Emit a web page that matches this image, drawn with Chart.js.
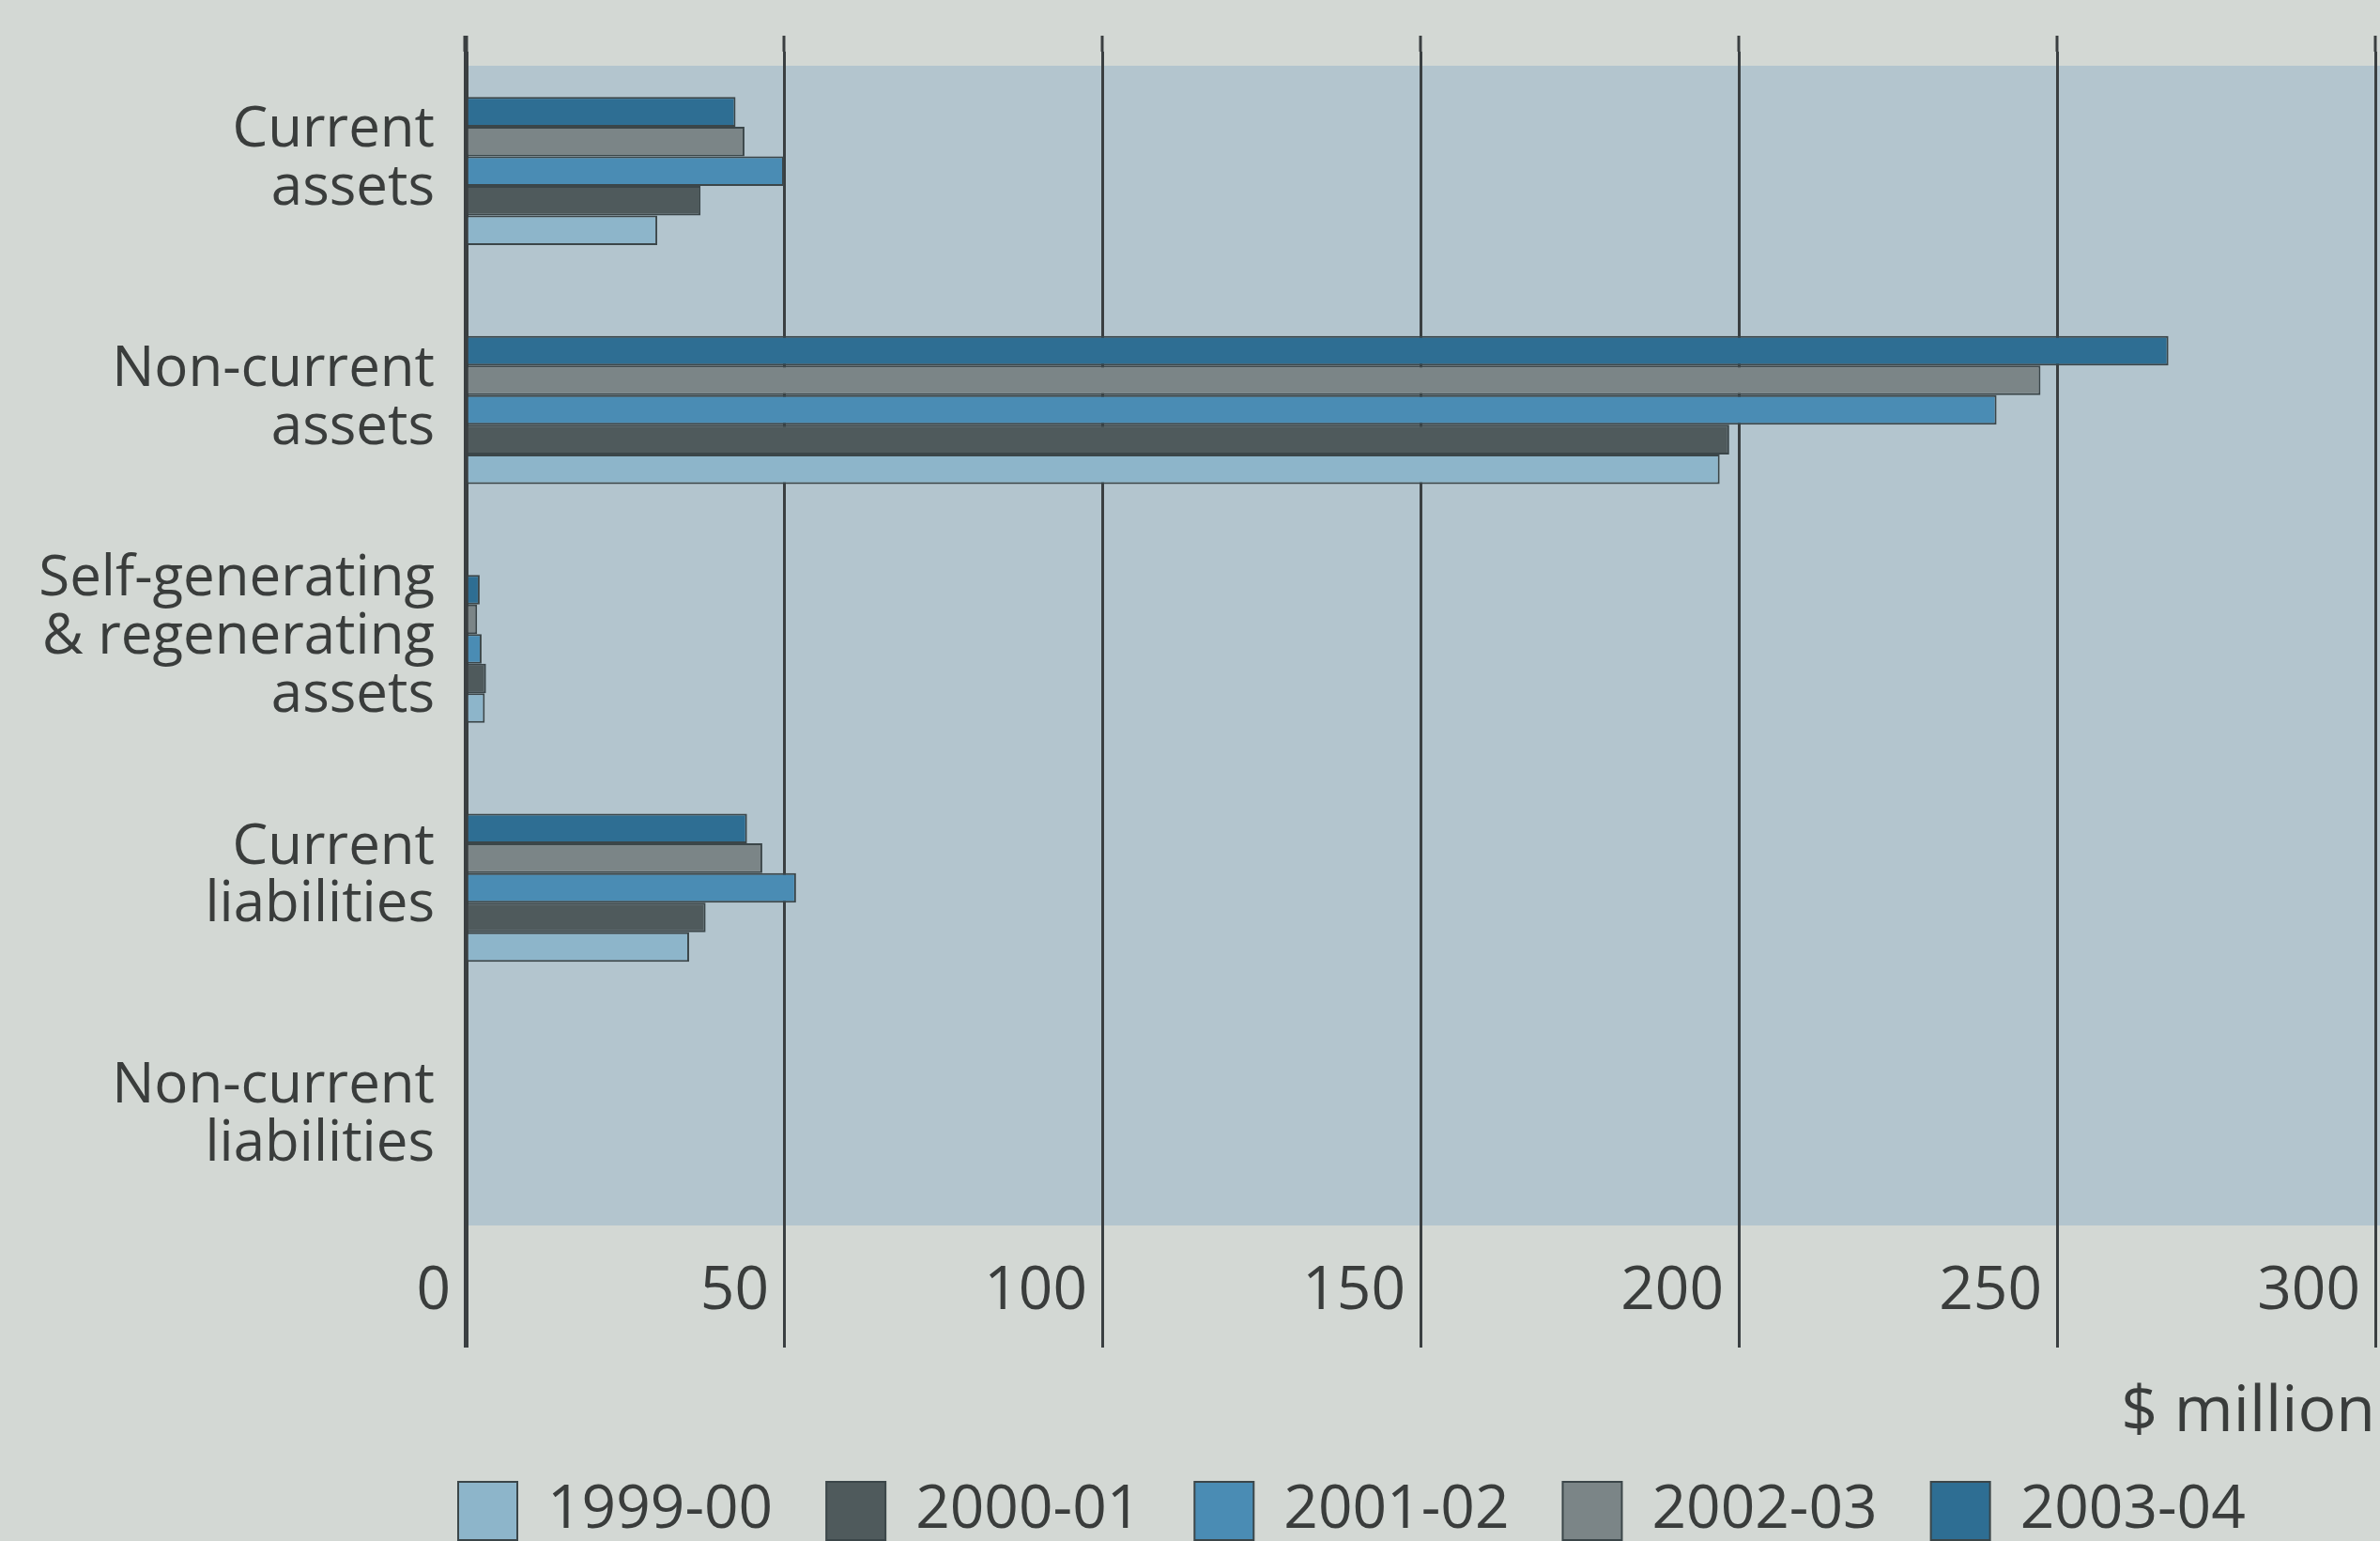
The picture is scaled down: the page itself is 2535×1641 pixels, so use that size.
<!DOCTYPE html>
<html>
<head>
<meta charset="utf-8">
<script src="https://cdn.jsdelivr.net/npm/chart.js@4.4.4/dist/chart.umd.min.js"></script>
<style>
  html, body { margin: 0; padding: 0; background: #d3d8d4; }
  #wrap { width: 2535px; height: 1641px; }
</style>
</head>
<body>
<div id="wrap"><canvas id="chart"></canvas></div>
<script>
const categories = [
  ["Current", "assets"],
  ["Non-current", "assets"],
  ["Self-generating", "& regenerating", "assets"],
  ["Current", "liabilities"],
  ["Non-current", "liabilities"],
];
const years = ["1999-00", "2000-01", "2001-02", "2002-03", "2003-04"];

// $ million, one value per category
const values1999 = [30.1, 197.0, 3.0, 35.1, 0];
const values2000 = [36.9, 198.5, 3.2, 37.7, 0];
const values2001 = [50.0, 240.5, 2.5, 51.9, 0];
const values2002 = [43.8, 247.4, 1.8, 46.6, 0];
const values2003 = [42.4, 267.5, 2.2, 44.2, 0];
const xTicks = [0, 50, 100, 150, 200, 250, 300];

const series = [values1999, values2000, values2001, values2002, values2003];
const colors = ["#8db5ca", "#4f5a5c", "#4a8cb4", "#7b8587", "#2e6e93"];
const ink = "#3a3d3c";
const gridInk = "#3a3f41";

Chart.defaults.font.family = "'Open Sans', sans-serif";
Chart.defaults.color = ink;

// newest year sits on top of each group, so datasets go in reverse
const datasets = years.map((year, i) => ({
  label: year,
  data: series[i],
  backgroundColor: colors[i],
  borderColor: "#3b4649",
  borderWidth: 2,
})).reverse();

const backdrop = {
  id: "backdrop",
  afterLayout(chart) {
    // legend starts under the value axis, not at the page edge
    chart.legend.left += 431;
    chart.legend.right += 431;
  },
  beforeDraw(chart) {
    const { ctx, chartArea, scales } = chart;
    const left = scales.x.getPixelForValue(0);
    ctx.save();
    ctx.fillStyle = "#b3c5ce";
    ctx.fillRect(left, chartArea.top + 15, chart.width - left, chartArea.bottom - chartArea.top - 37);
    ctx.restore();
  },
  beforeDatasetsDraw(chart) {
    // gridlines poke a little above the plotting area
    const { ctx, chartArea, scales } = chart;
    ctx.save();
    ctx.strokeStyle = gridInk;
    scales.x.ticks.forEach((t) => {
      const x = scales.x.getPixelForValue(t.value);
      ctx.lineWidth = t.value === 0 ? 5 : 3;
      ctx.beginPath();
      ctx.moveTo(x, chartArea.top - 17);
      ctx.lineTo(x, chartArea.top);
      ctx.stroke();
    });
    ctx.restore();
  },
};

new Chart(document.getElementById("chart"), {
  type: "bar",
  data: { labels: categories, datasets },
  plugins: [backdrop],
  options: {
    indexAxis: "y",
    responsive: true,
    maintainAspectRatio: false,
    animation: false,
    events: [],
    layout: { padding: { left: 0, right: 5, top: 55, bottom: -10 } },
    datasets: { bar: { categoryPercentage: 0.62, barPercentage: 1 } },
    scales: {
      x: {
        min: 0,
        max: 300,
        afterBuildTicks: (s) => { s.ticks = xTicks.map((v) => ({ value: v })); },
        afterFit: (s) => { s.height = 193; s.paddingLeft = 0; s.paddingRight = 0; },
        border: { display: false },
        grid: {
          color: gridInk,
          lineWidth: (c) => (c.tick && c.tick.value === 0 ? 5 : 3),
          drawTicks: true,
          tickLength: 108,
        },
        ticks: {
          align: "end",
          labelOffset: -16,
          padding: -98,
          maxRotation: 0,
          autoSkip: false,
          font: { size: 64 },
        },
        title: {
          display: true,
          text: "$ million",
          align: "end",
          font: { size: 68 },
          padding: { top: 0, bottom: -25 },
        },
      },
      y: {
        afterFit: (s) => { s.width = 496; s.paddingTop = 0; s.paddingBottom = 0; },
        border: { display: false },
        grid: { display: false, drawTicks: false },
        ticks: { padding: 33, labelOffset: -12, font: { size: 60, lineHeight: 1.03 } },
      },
    },
    plugins: {
      legend: {
        position: "bottom",
        align: "start",
        reverse: true,
        labels: { boxWidth: 63, boxHeight: 62, padding: 57, font: { size: 64 } },
      },
      tooltip: { enabled: false },
    },
  },
});
</script>
</body>
</html>
